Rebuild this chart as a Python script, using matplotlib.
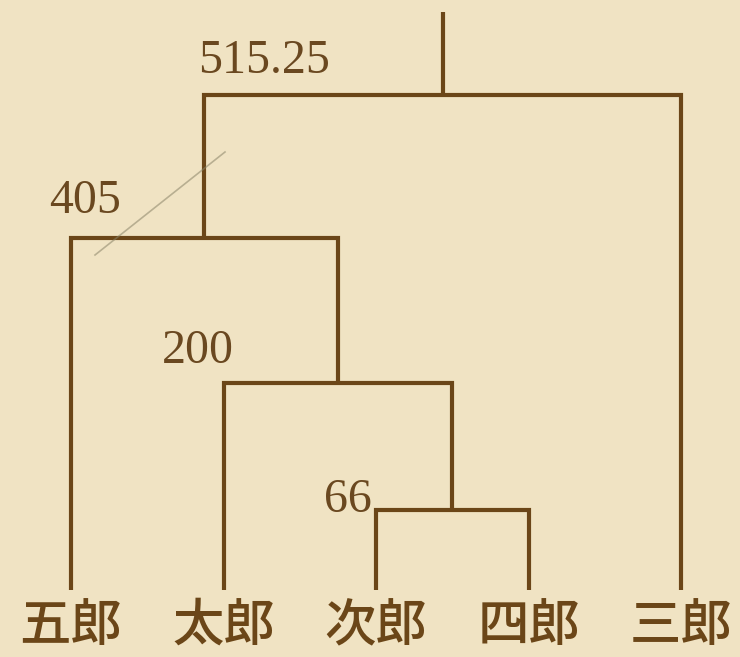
import numpy as np
import matplotlib
matplotlib.use('Agg')
import matplotlib.pyplot as plt
from matplotlib.lines import Line2D

# ---------------- data ----------------
leaves = ['五郎', '太郎', '次郎', '四郎', '三郎']
# scipy-like linkage: leaves 0..4, clusters 5..8
merge_left = [2, 1, 0, 7]
merge_right = [3, 5, 6, 4]
merge_values = [66, 200, 405, 515.25]
merge_labels = ['66', '200', '405', '515.25']
root_stem_top = 620

# ---------------- style ----------------
W, H = 740, 657
line_color = '#6b4618'
num_color = '#6a4820'
bg_color = '#f0e3c3'
lw = 3.0

# non-linear display of the merge heights (as drawn in the reference)
value_knots = [0, 66, 200, 405, 515.25, 620]
height_knots = [0, 80, 207, 352, 495, 578]


def fwd(v):
    return np.interp(v, value_knots, height_knots)


def inv(h):
    return np.interp(h, height_knots, value_knots)


# label offsets (pixels) relative to the left end of each merge bar
label_offsets = [(-28, -2), (-26, 20), (14, 25), (60, 22)]

fig = plt.figure(figsize=(W / 100, H / 100), dpi=100)
fig.patch.set_facecolor(bg_color)

# faint paper fibre
fig.add_artist(Line2D([95 / W, 225 / W], [1 - 255 / H, 1 - 152 / H],
                      color='#8a8468', lw=1.2, alpha=0.55))

ax = fig.add_axes([0, 67 / H, 1, 578 / H])
ax.set_facecolor('none')
ax.set_yscale('function', functions=(fwd, inv))
ax.set_xlim(-71 / 152.5, 4 + 59 / 152.5)
ax.set_ylim(0, root_stem_top)
ax.axis('off')

n = len(leaves)
pos = {i: float(i) for i in range(n)}
hgt = {i: 0.0 for i in range(n)}

for k, (l, r, v) in enumerate(zip(merge_left, merge_right, merge_values)):
    xl, xr = pos[l], pos[r]
    ax.plot([xl, xl, xr, xr], [hgt[l], v, v, hgt[r]], color=line_color, lw=lw,
            solid_joinstyle='miter', solid_capstyle='butt', clip_on=False)
    node = n + k
    pos[node] = (xl + xr) / 2
    hgt[node] = v
    dx, dy = label_offsets[k]
    ax.annotate(merge_labels[k], (xl, v), xytext=(dx, dy), textcoords='offset pixels',
                ha='center', va='baseline', fontsize=34.5, family='Liberation Serif',
                color=num_color, annotation_clip=False)

root = n + len(merge_values) - 1
ax.plot([pos[root], pos[root]], [hgt[root], root_stem_top], color=line_color, lw=lw,
        solid_capstyle='butt', clip_on=False)

for i, name in enumerate(leaves):
    ax.annotate(name, (i, 0), xytext=(0, -10), textcoords='offset pixels',
                ha='center', va='top', fontsize=37, weight='medium',
                family=['Noto Sans CJK JP', 'DejaVu Sans'], color=line_color,
                annotation_clip=False)

fig.savefig('out.png', dpi=100, facecolor=bg_color)
